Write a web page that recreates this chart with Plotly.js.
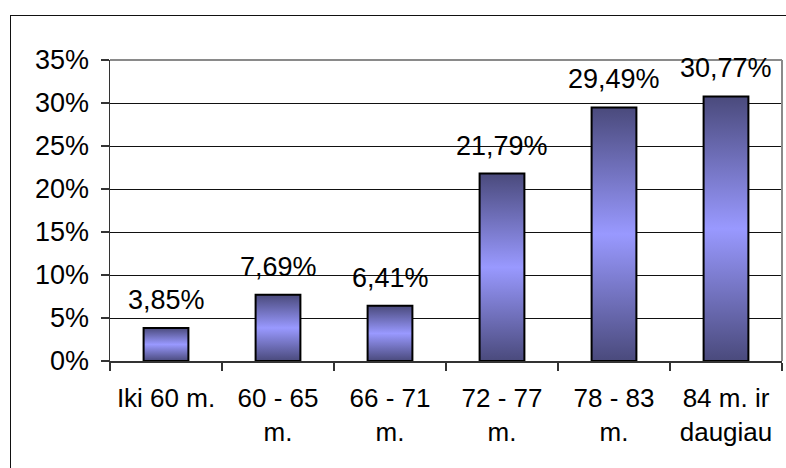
<!DOCTYPE html>
<html>
<head>
<meta charset="utf-8">
<script src="https://cdn.plot.ly/plotly-3.0.1.min.js"></script>
<style>
  html, body { margin: 0; padding: 0; background: #fff; overflow: hidden; }
  #wrap { position: relative; width: 786px; height: 468px; }
  #chart { position: absolute; left: 0; top: 0; width: 786px; height: 468px; }
  #frame {
    position: absolute; left: 10px; top: 15px; width: 800px; height: 500px;
    border: 1.5px solid #111; pointer-events: none;
  }
</style>
</head>
<body>
<div id="wrap">
  <div id="chart"></div>
  <div id="frame"></div>
</div>
<script>
// Age groups and their share of respondents (%)
const ageGroups = ["Iki 60 m.", "60 - 65<br>m.", "66 - 71<br>m.", "72 - 77<br>m.", "78 - 83<br>m.", "84 m. ir<br>daugiau"];
const shares = [3.85, 7.69, 6.41, 21.79, 29.49, 30.77];
const yTicks = [0, 5, 10, 15, 20, 25, 30, 35];

const FONT = "Liberation Sans, Arial, sans-serif";

function fmt(v) {
  return v.toFixed(2).replace(".", ",") + "%";
}

const trace = {
  type: "bar",
  x: ageGroups,
  y: shares,
  width: 0.4,
  marker: { color: "#9999ff", line: { color: "#000", width: 2 } },
  hoverinfo: "none"
};

const labels = ageGroups.map((g, i) => ({
  x: g, y: shares[i], xref: "x", yref: "y",
  text: fmt(shares[i]), showarrow: false,
  yanchor: "bottom", yshift: 11,
  font: { family: FONT, size: 27, color: "#000" }
}));

const layout = {
  width: 786, height: 468,
  margin: { l: 110, r: 4, t: 60, b: 107 },
  paper_bgcolor: "rgba(0,0,0,0)",
  plot_bgcolor: "#fff",
  separators: ",.",
  font: { family: FONT, size: 27, color: "#000" },
  showlegend: false,
  bargap: 0.6,
  xaxis: {
    type: "category",
    showline: true, linecolor: "#333", linewidth: 1.5,
    ticks: "outside", ticklen: 8, tickcolor: "#333", tickwidth: 1.5,
    tickson: "boundaries",
    showgrid: false, zeroline: false,
    ticklabelstandoff: 13,
    tickfont: { family: FONT, size: 26, color: "#000" },
    fixedrange: true
  },
  yaxis: {
    range: [0, 35],
    tickvals: yTicks,
    ticktext: yTicks.map(t => t + "%"),
    showline: true, linecolor: "#333", linewidth: 1.5,
    ticks: "outside", ticklen: 8, tickcolor: "#333", tickwidth: 1.5,
    showgrid: true, gridcolor: "#111", gridwidth: 1,
    zeroline: false,
    ticklabelstandoff: 6,
    tickfont: { family: FONT, size: 27, color: "#000" },
    fixedrange: true
  },
  shapes: [
    { type: "line", xref: "paper", yref: "paper", x0: 0, x1: 1, y0: 1, y1: 1,
      line: { color: "#8a8a8a", width: 2 }, layer: "above" },
    { type: "line", xref: "paper", yref: "paper", x0: 1, x1: 1, y0: 0, y1: 1,
      line: { color: "#8a8a8a", width: 2 }, layer: "above" }
  ],
  annotations: labels
};

Plotly.newPlot("chart", [trace], layout, { staticPlot: true, displayModeBar: false }).then(gd => {
  // Shade each bar dark-light-dark from top to bottom
  const svg = gd.querySelector("svg.main-svg");
  const ns = "http://www.w3.org/2000/svg";
  let defs = svg.querySelector("defs");
  if (!defs) { defs = document.createElementNS(ns, "defs"); svg.insertBefore(defs, svg.firstChild); }
  const grad = document.createElementNS(ns, "linearGradient");
  grad.setAttribute("id", "barShade");
  grad.setAttribute("x1", "0"); grad.setAttribute("y1", "0");
  grad.setAttribute("x2", "0"); grad.setAttribute("y2", "1");
  [["0", "#4a4a7c"], ["0.5", "#9999ff"], ["1", "#4a4a7c"]].forEach(([o, c]) => {
    const s = document.createElementNS(ns, "stop");
    s.setAttribute("offset", o); s.setAttribute("stop-color", c);
    grad.appendChild(s);
  });
  defs.appendChild(grad);
  gd.querySelectorAll(".bars .point path").forEach(p => { p.style.fill = "url(#barShade)"; });
});
</script>
</body>
</html>
